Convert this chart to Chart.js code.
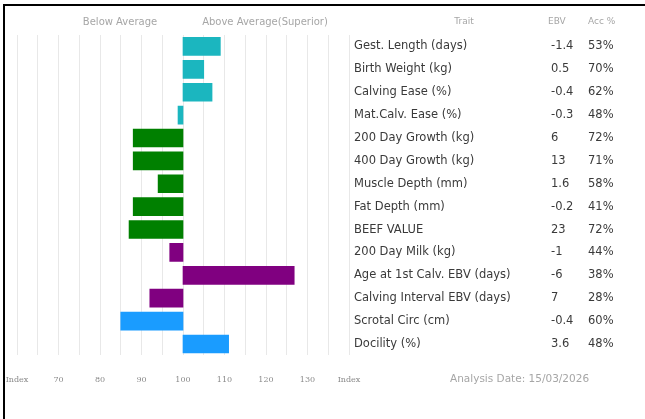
<!DOCTYPE html>
<html>
<head>
<meta charset="utf-8">
<script src="https://cdn.jsdelivr.net/npm/chart.js@4/dist/chart.umd.min.js"></script>
<style>
  html, body { margin: 0; padding: 0; background: #fff; }
  #wrap { position: relative; width: 645px; height: 419px; }
  #frame { position: absolute; left: 3px; top: 4px; right: 0; bottom: 0;
           border-top: 2px solid #000; border-left: 2px solid #000; pointer-events: none; }
  canvas { position: absolute; left: 0; top: 0; }
</style>
</head>
<body>
<div id="wrap">
  <canvas id="grafico" width="645" height="419"></canvas>
  <div id="frame"></div>
</div>
<script>
// dati
const tratti = ['Gest. Length (days)', 'Birth Weight (kg)', 'Calving Ease (%)', 'Mat.Calv. Ease (%)',
  '200 Day Growth (kg)', '400 Day Growth (kg)', 'Muscle Depth (mm)', 'Fat Depth (mm)', 'BEEF VALUE',
  '200 Day Milk (kg)', 'Age at 1st Calv. EBV (days)', 'Calving Interval EBV (days)', 'Scrotal Circ (cm)', 'Docility (%)'];
const valoriEbv = ['-1.4', '0.5', '-0.4', '-0.3', '6', '13', '1.6', '-0.2', '23', '-1', '-6', '7', '-0.4', '3.6'];
const accuratezza = ['53%', '70%', '62%', '48%', '72%', '71%', '58%', '41%', '72%', '44%', '38%', '28%', '60%', '48%'];
const indici = [109, 105, 107, 98.8, 88, 88, 94, 88, 87, 96.8, 126.8, 92, 85, 111];
const gruppi = ['birth', 'birth', 'birth', 'birth', 'growth', 'growth', 'growth', 'growth', 'growth',
  'fert', 'fert', 'fert', 'other', 'other'];
const coloriGruppo = { birth: '#1bb6bf', growth: '#008000', fert: '#800080', other: '#1a9cff' };
const tickIndice = [60, 70, 80, 90, 100, 110, 120, 130, 140];

const fontTabella = '"DejaVu Sans", sans-serif';

const tabellaPlugin = {
  id: 'tabella',
  afterDraw(chart) {
    const ctx = chart.ctx;
    const y = chart.scales.y;
    ctx.save();
    ctx.textBaseline = 'middle';

    // intestazioni
    ctx.fillStyle = '#a6a6a6';
    ctx.font = '10px ' + fontTabella;
    ctx.textAlign = 'center';
    ctx.fillText('Below Average', 120, 22);
    ctx.fillText('Above Average(Superior)', 265, 22);
    ctx.font = '9px ' + fontTabella;
    ctx.fillText('Trait', 464, 22);
    ctx.textAlign = 'left';
    ctx.fillText('EBV', 548, 22);
    ctx.fillText('Acc %', 588, 22);

    // righe
    ctx.fillStyle = '#3a3a3a';
    ctx.font = '11.5px ' + fontTabella;
    tratti.forEach((t, i) => {
      const py = y.getPixelForValue(i);
      ctx.fillText(t, 354, py);
      ctx.fillText(valoriEbv[i], 551, py);
      ctx.fillText(accuratezza[i], 588, py);
    });

    // data analisi
    ctx.fillStyle = '#a6a6a6';
    ctx.font = '10.5px ' + fontTabella;
    ctx.fillText('Analysis Date: 15/03/2026', 450, 379);
    ctx.restore();
  }
};

new Chart(document.getElementById('grafico'), {
  type: 'bar',
  data: {
    labels: tratti,
    datasets: [{
      data: indici.map(v => [100, v]),
      backgroundColor: gruppi.map(g => coloriGruppo[g]),
      barThickness: 18,
      borderSkipped: false
    }]
  },
  options: {
    indexAxis: 'y',
    responsive: false,
    animation: false,
    layout: { padding: { left: 17, right: 296, top: 35, bottom: 14 } },
    plugins: { legend: { display: false }, tooltip: { enabled: false } },
    scales: {
      y: { display: false },
      x: {
        min: 60,
        max: 140,
        border: { display: false },
        grid: { color: '#e8e8e8', drawTicks: false },
        afterFit: scala => { scala.paddingLeft = 0; scala.paddingRight = 0; },
        ticks: {
          stepSize: 5,
          autoSkip: false,
          maxRotation: 0,
          padding: 20,
          color: '#8a8a8a',
          font: { family: '"DejaVu Serif", serif', size: 8 },
          callback: v => {
            if (!tickIndice.includes(v)) return '';
            return (v === 60 || v === 140) ? 'Index' : v;
          }
        }
      }
    }
  },
  plugins: [tabellaPlugin]
});
</script>
</body>
</html>
